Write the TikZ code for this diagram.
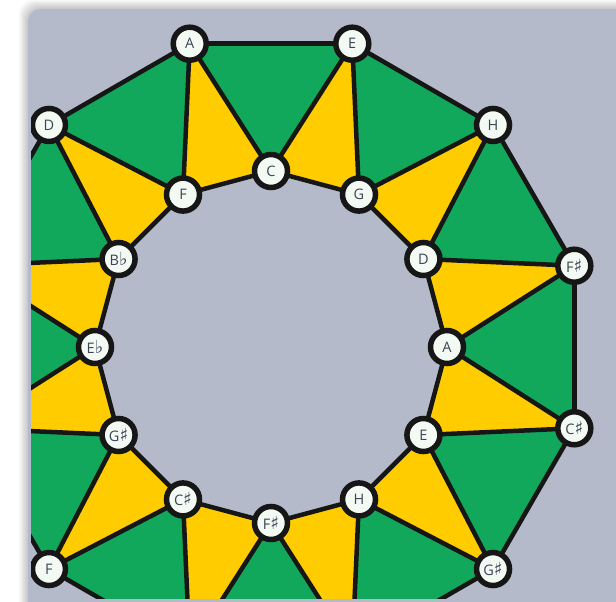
\documentclass[tikz,border=0pt]{standalone}
\usepackage{fontspec}
\setmainfont{Open Sans}
\newfontfamily\symfont{DejaVu Sans}
\definecolor{bg}{HTML}{B4BAC9}
\definecolor{grn}{HTML}{12A85C}
\definecolor{ylw}{HTML}{FFCC00}
\definecolor{edgecol}{HTML}{161616}
\definecolor{nodefill}{HTML}{F3F9F3}
\definecolor{lbl}{HTML}{3C4455}
\newcommand{\shp}{{\symfont\fontsize{18}{18}\selectfont\char"266F}}
\newcommand{\flt}{{\symfont\fontsize{18}{18}\selectfont\char"266D}}
\begin{document}
\begin{tikzpicture}[x=1pt,y=-1pt,
  note/.style={circle, draw=edgecol, line width=5.5pt, fill=nodefill,
    minimum size=33pt, inner sep=0pt, font=\fontsize{14.5}{14.5}\selectfont, text=lbl},
  link/.style={draw=edgecol, line width=4.5pt, line cap=round, line join=round},
  greentri/.style={fill=grn},
  yellowtri/.style={fill=ylw}]
\useasboundingbox (0,0) rectangle (616,602);
\fill[white] (0,0) rectangle (616,602);
\foreach \s in {1,...,9}{
  \fill[black, opacity=0.025, rounded corners=14pt] ({28-\s},{9-\s}) rectangle (660,660);
}
\fill[bg, rounded corners=12pt] (28,9) rectangle (660,660);
\begin{scope}
\clip (31,11) rectangle (616,598);
\foreach \k in {0,...,11}{
  \coordinate (o\k) at ({271+314*cos(15+30*\k)},{347-314*sin(15+30*\k)});
  \coordinate (i\k) at ({271+176*cos(30*\k)},{347-176*sin(30*\k)});
}
\foreach \k in {0,...,11}{
  \pgfmathtruncatemacro\n{mod(\k+1,12)}
  \fill[greentri] (o\k) -- (o\n) -- (i\n) -- cycle;
  \fill[yellowtri] (i\k) -- (i\n) -- (o\k) -- cycle;
}
\foreach \k in {0,...,11}{
  \pgfmathtruncatemacro\n{mod(\k+1,12)}
  \draw[link] (o\k) -- (o\n);
  \draw[link] (i\k) -- (i\n);
  \draw[link] (o\k) -- (i\k);
  \draw[link] (o\k) -- (i\n);
}
% outer ring
\node[note] (oFis) at (o0) {F\shp};
\node[note] (oH)   at (o1) {H};
\node[note] (oE)   at (o2) {E};
\node[note] (oA)   at (o3) {A};
\node[note] (oD)   at (o4) {D};
\node[note] (oF)   at (o7) {F};
\node[note] (oGis) at (o10) {G\shp};
\node[note] (oCis) at (o11) {C\shp};
% inner ring
\node[note] (iA)   at (i0) {A};
\node[note] (iD)   at (i1) {D};
\node[note] (iG)   at (i2) {G};
\node[note] (iC)   at (i3) {C};
\node[note] (iF)   at (i4) {F};
\node[note] (iB)   at (i5) {B\flt};
\node[note] (iEs)  at (i6) {E\flt};
\node[note] (iGis) at (i7) {G\shp};
\node[note] (iCis) at (i8) {C\shp};
\node[note] (iFis) at (i9) {F\shp};
\node[note] (iH)   at (i10) {H};
\node[note] (iE)   at (i11) {E};
\end{scope}
\end{tikzpicture}
\end{document}
